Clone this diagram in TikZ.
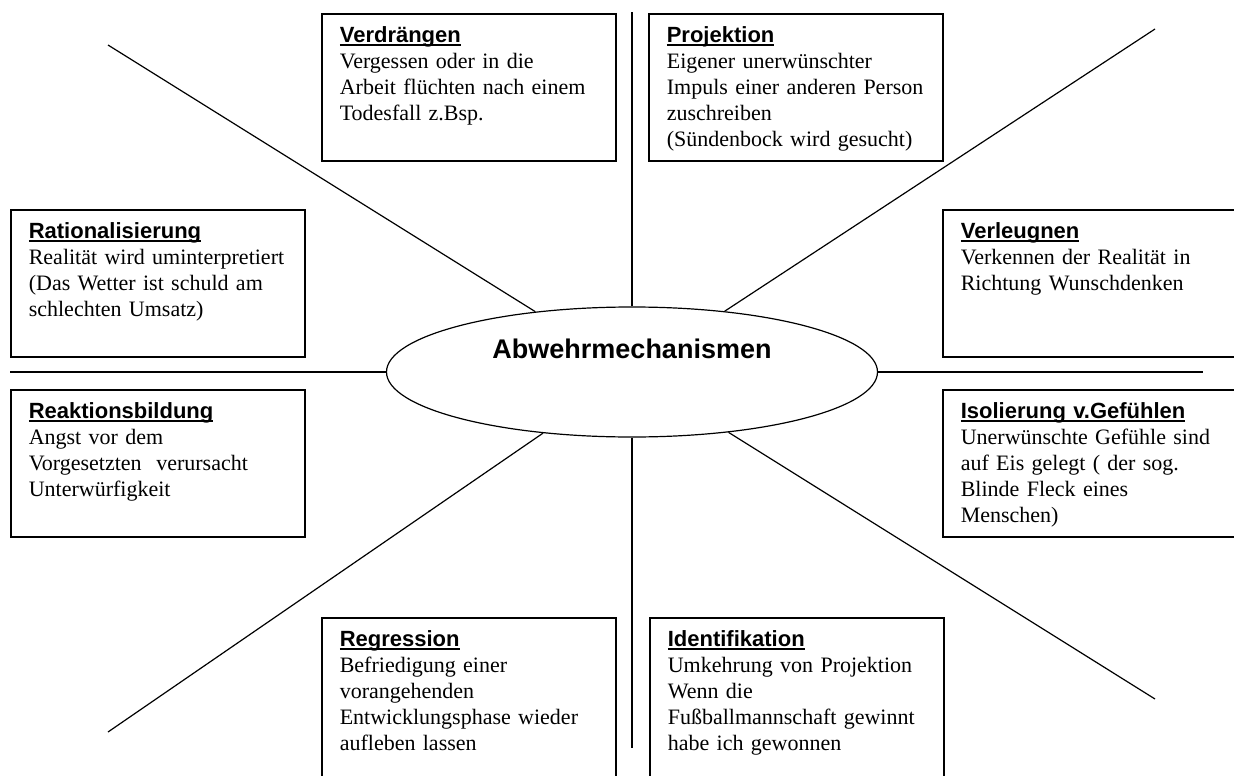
\documentclass[tikz,border=0pt]{standalone}
\usepackage{fontspec}
\setmainfont{Liberation Serif}
\setsansfont{Liberation Sans}
\usetikzlibrary{shapes.geometric}
\definecolor{Ink}{HTML}{000000}

% underlined heading of a box
\newcommand{\mechtitle}[1]{{\sffamily\bfseries\setbox0=\hbox{#1}\rlap{\rule[-3pt]{\wd0}{1.6pt}}\box0}}

\begin{document}
\begin{tikzpicture}[x=1pt,y=-1pt,
  mechbox/.style={draw=Ink,line width=1.6pt,anchor=north west,inner xsep=18pt,inner ysep=0pt,
    text width=258pt,align=left,text depth=118pt,font=\fontsize{22pt}{26pt}\selectfont},
  lowbox/.style={mechbox,text depth=150pt},
  spoke/.style={draw=Ink,line width=1.2pt}]
\useasboundingbox (0,0) rectangle (1234,776);
\node[ellipse,draw=Ink,line width=1.2pt,minimum width=491pt,minimum height=130pt,inner sep=0pt,
  font=\sffamily\bfseries\fontsize{27pt}{30pt}\selectfont,text height=19.5pt,text depth=47.5pt] (abw) at (632,372) {Abwehrmechanismen};
\coordinate (nw) at (108,45);
\coordinate (ne) at (1155,29);
\coordinate (sw) at (108,732);
\coordinate (se) at (1155,699);
\coordinate (n) at (632,12);
\coordinate (s) at (632,748);
\coordinate (w) at (10,372);
\coordinate (e) at (1203,372);
\draw[spoke] (abw) -- (nw);
\draw[spoke] (abw) -- (ne);
\draw[spoke] (abw) -- (sw);
\draw[spoke] (abw) -- (se);
\draw[spoke] (abw) -- (n);
\draw[spoke] (abw) -- (s);
\draw[spoke] (abw) -- (w);
\draw[spoke] (abw) -- (e);
\node[mechbox,fill=white] (verdraengen) at (321,13) {\rule{0pt}{29pt}\mechtitle{Verdrängen}\\Vergessen oder in die\\Arbeit flüchten nach einem\\Todesfall z.Bsp.};
\node[mechbox,fill=white] (projektion) at (648,13) {\rule{0pt}{29pt}\mechtitle{Projektion}\\Eigener unerwünschter\\Impuls einer anderen Person\\zuschreiben\\(Sündenbock wird gesucht)};
\node[mechbox,fill=white] (rational) at (10,209) {\rule{0pt}{29pt}\mechtitle{Rationalisierung}\\Realität wird uminterpretiert\\(Das Wetter ist schuld am\\schlechten Umsatz)};
\node[mechbox,fill=white] (verleugnen) at (942,209) {\rule{0pt}{29pt}\mechtitle{Verleugnen}\\Verkennen der Realität in\\Richtung Wunschdenken};
\node[mechbox,fill=white] (reaktion) at (10,389) {\rule{0pt}{29pt}\mechtitle{Reaktionsbildung}\\Angst vor dem\\Vorgesetzten\ \ verursacht\\Unterwürfigkeit};
\node[mechbox,fill=white] (isolierung) at (942,389) {\rule{0pt}{29pt}\mechtitle{Isolierung v.Gefühlen}\\Unerwünschte Gefühle sind\\auf Eis gelegt ( der sog.\\Blinde Fleck eines\\Menschen)};
\node[lowbox,fill=white] (regression) at (321,617) {\rule{0pt}{29pt}\mechtitle{Regression}\\Befriedigung einer\\vorangehenden\\Entwicklungsphase wieder\\aufleben lassen};
\node[lowbox,fill=white] (identifikation) at (649,617) {\rule{0pt}{29pt}\mechtitle{Identifikation}\\Umkehrung von Projektion\\Wenn die\\Fußballmannschaft gewinnt\\habe ich gewonnen};
\end{tikzpicture}
\end{document}
